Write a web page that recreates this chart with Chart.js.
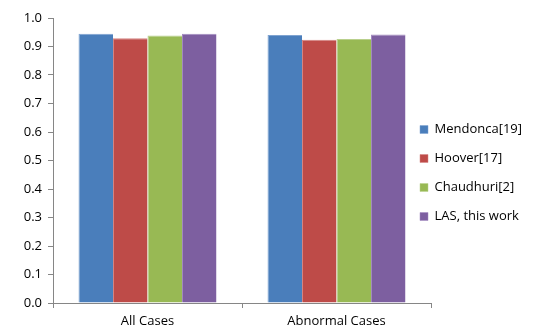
<!DOCTYPE html>
<html>
<head>
<meta charset="utf-8">
<script src="https://cdn.jsdelivr.net/npm/chart.js@4/dist/chart.umd.min.js"></script>
<style>
html,body{margin:0;padding:0;background:#fff;}
#wrap{width:534px;height:334px;position:relative;}
</style>
</head>
<body>
<div id="wrap"><canvas id="c" width="534" height="334"></canvas></div>
<script>
const categories = ["All Cases", "Abnormal Cases"];
const seriesNames = ["Mendonca[19]", "Hoover[17]", "Chaudhuri[2]", "LAS, this work"];
const mendonca = [0.945, 0.940];
const hoover = [0.929, 0.924];
const chaudhuri = [0.939, 0.926];
const las = [0.945, 0.942];
const yTicks = [0.0, 0.1, 0.2, 0.3, 0.4, 0.5, 0.6, 0.7, 0.8, 0.9, 1.0];

const colors = ["#4A7EBB", "#BE4B48", "#98B954", "#7D5FA0"];
const borders = ["#7FA3D0", "#D48482", "#B9D08C", "#A38BC0"];
const values = [mendonca, hoover, chaudhuri, las];

const font = {family: "'Open Sans', 'Liberation Sans', sans-serif", size: 13};

const legendShift = {
  id: 'legendShift',
  afterLayout(chart) {
    const l = chart.legend;
    if (!l) return;
    l.left -= 27;
    l.right = 534;
    l.top -= 3; l.bottom -= 3;
  }
};

new Chart(document.getElementById('c'), {
  type: 'bar',
  data: {
    labels: categories,
    datasets: seriesNames.map((n, i) => ({
      label: n,
      data: values[i],
      backgroundColor: colors[i],
      borderColor: borders[i],
      borderWidth: {top: 1, left: 1, right: 0, bottom: 0},
      categoryPercentage: 0.73,
      barPercentage: 1.0
    }))
  },
  plugins: [legendShift],
  options: {
    responsive: false,
    animation: false,
    layout: {padding: {left: 0, top: 18, right: 0, bottom: 0}},
    plugins: {
      tooltip: {enabled: false},
      legend: {
        position: 'right',
        align: 'center',
        maxWidth: 103,
        labels: {
          boxWidth: 8,
          boxHeight: 8,
          padding: 16,
          color: '#000',
          font: font
        }
      }
    },
    scales: {
      x: {
        afterFit: (s) => { s.height = 31; },
        grid: {display: true, drawOnChartArea: false, color: '#868686', tickLength: 5, offset: true},
        border: {color: '#868686'},
        ticks: {color: '#000', font: font, padding: 5}
      },
      y: {
        min: 0, max: 1,
        afterFit: (s) => { s.width = 53; },
        afterBuildTicks: (s) => { s.ticks = yTicks.map(v => ({value: v})); },
        grid: {display: true, drawOnChartArea: false, color: '#868686', tickLength: 5},
        border: {color: '#868686'},
        ticks: {color: '#000', font: font, padding: 6, callback: (v) => Number(v).toFixed(1)}
      }
    }
  }
});
</script>
</body>
</html>
